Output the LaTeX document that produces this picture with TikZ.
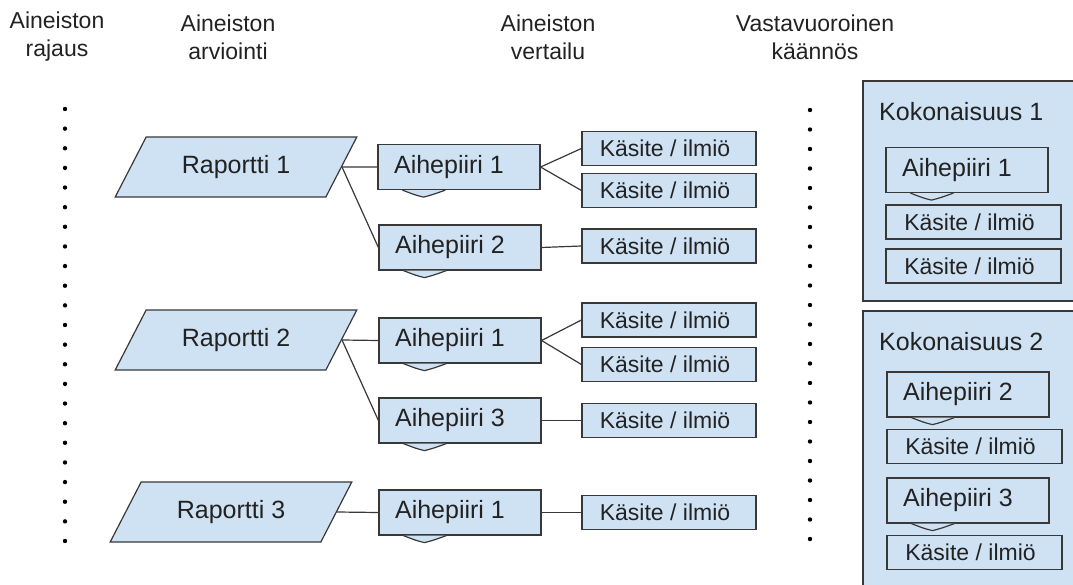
\documentclass[tikz,border=0pt]{standalone}
\usepackage{fontspec}
\setmainfont{Liberation Sans}
\usetikzlibrary{calc,shapes.geometric}
\definecolor{boxfill}{HTML}{CFE2F3}
\definecolor{boxline}{HTML}{383838}
\definecolor{txt}{HTML}{222222}
\newcommand\docwave[1]{%
  \filldraw[boxline,fill=boxfill,line width=1.2pt,line join=round]
    ($(#1.south west)+(25,0)$) .. controls ($(#1.south west)+(38,5)$) .. ($(#1.south west)+(46,7)$)
    .. controls ($(#1.south west)+(54,5)$) .. ($(#1.south west)+(68,0)$);}
\begin{document}
\begin{tikzpicture}[x=1pt,y=-1pt,
  every node/.style={text=txt},
  hdr/.style={align=center,font=\fontsize{23}{28}\selectfont},
  rap/.style={trapezium,trapezium stretches=true,trapezium left angle=51.3,trapezium right angle=128.7,
     minimum width=242pt,minimum height=60pt,inner sep=0pt,draw=boxline,fill=boxfill,line width=1.2pt,
     font=\fontsize{25}{30}\selectfont},
  aih/.style={rectangle,minimum width=162pt,minimum height=45pt,inner sep=0pt,draw=boxline,fill=boxfill,
     line width=1.2pt,font=\fontsize{25}{30}\selectfont},
  kas/.style={rectangle,minimum width=174pt,minimum height=34pt,inner sep=0pt,draw=boxline,fill=boxfill,
     line width=1.2pt,font=\fontsize{23}{28}\selectfont},
  ttl/.style={anchor=west,inner sep=0pt,font=\fontsize{25}{30}\selectfont},
  conn/.style={draw=boxline,line width=1.2pt},
  panel/.style={draw=boxline,fill=boxfill,line width=1.2pt}]
\useasboundingbox (0,0) rectangle (1073,585);

% headers
\node[hdr] (h1) at (57,37) {Aineiston\\rajaus};
\node[hdr] (h2) at (228,37) {Aineiston\\arviointi};
\node[hdr] (h3) at (548,37) {Aineiston\\vertailu};
\node[hdr] (h4) at (815,37) {Vastavuoroinen\\käännös};

% dotted columns
\foreach \i in {0,...,22} {
  \fill[black] (65,109+\i*19.636) circle (2.2);
  \fill[black] (810,110+\i*19.5) circle (2.2);
}

% row 1
\node[rap] (r1) at (236,167) {Raportti 1};
\node[aih] (a11) at (459,167) {Aihepiiri 1\hspace*{20pt}};
\node[aih] (a12) at (460,247.5) {Aihepiiri 2\hspace*{20pt}};
\docwave{a11}\docwave{a12}
\node[kas] (k111) at (669,148.5) {Käsite / ilmiö\hspace*{8pt}};
\node[kas] (k112) at (669,190.5) {Käsite / ilmiö\hspace*{8pt}};
\node[kas] (k121) at (669,246) {Käsite / ilmiö\hspace*{8pt}};

% row 2
\node[rap] (r2) at (236,340) {Raportti 2};
\node[aih] (a21) at (460,340.5) {Aihepiiri 1\hspace*{20pt}};
\node[aih] (a23) at (460,420.5) {Aihepiiri 3\hspace*{20pt}};
\docwave{a21}\docwave{a23}
\node[kas] (k211) at (669,320) {Käsite / ilmiö\hspace*{8pt}};
\node[kas] (k212) at (669,364.5) {Käsite / ilmiö\hspace*{8pt}};
\node[kas] (k231) at (669,420.5) {Käsite / ilmiö\hspace*{8pt}};

% row 3
\node[rap] (r3) at (231,512) {Raportti 3};
\node[aih] (a31) at (460,512.5) {Aihepiiri 1\hspace*{20pt}};
\docwave{a31}
\node[kas] (k311) at (669,512.5) {Käsite / ilmiö\hspace*{8pt}};

% connectors
\draw[conn] (r1.east) -- (a11.west);
\draw[conn] (r1.east) -- (a12.west);
\draw[conn] (a11.east) -- (k111.west);
\draw[conn] (a11.east) -- (k112.west);
\draw[conn] (a12.east) -- (k121.west);
\draw[conn] (r2.east) -- (a21.west);
\draw[conn] (r2.east) -- (a23.west);
\draw[conn] (a21.east) -- (k211.west);
\draw[conn] (a21.east) -- (k212.west);
\draw[conn] (a23.east) -- (k231.west);
\draw[conn] (r3.east) -- (a31.west);
\draw[conn] (a31.east) -- (k311.west);

% right panels
\path[panel] (863,81) rectangle (1085,301);
\path[panel] (863,311) rectangle (1085,600);
\node[ttl] (t1) at (879,112) {Kokonaisuus 1};
\node[ttl] (t2) at (879,342) {Kokonaisuus 2};
\node[aih] (p1a) at (967,170) {Aihepiiri 1\hspace*{20pt}};
\docwave{p1a}
\node[kas,minimum width=175pt] (p1k1) at (973.5,222) {Käsite / ilmiö\hspace*{8pt}};
\node[kas,minimum width=175pt] (p1k2) at (973.5,266) {Käsite / ilmiö\hspace*{8pt}};
\node[aih] (p2a) at (968,394.5) {Aihepiiri 2\hspace*{20pt}};
\docwave{p2a}
\node[kas,minimum width=175pt] (p2k1) at (974.5,446.5) {Käsite / ilmiö\hspace*{8pt}};
\node[aih] (p2b) at (968,500.5) {Aihepiiri 3\hspace*{20pt}};
\docwave{p2b}
\node[kas,minimum width=175pt] (p2k2) at (974.5,552.5) {Käsite / ilmiö\hspace*{8pt}};
\end{tikzpicture}
\end{document}
